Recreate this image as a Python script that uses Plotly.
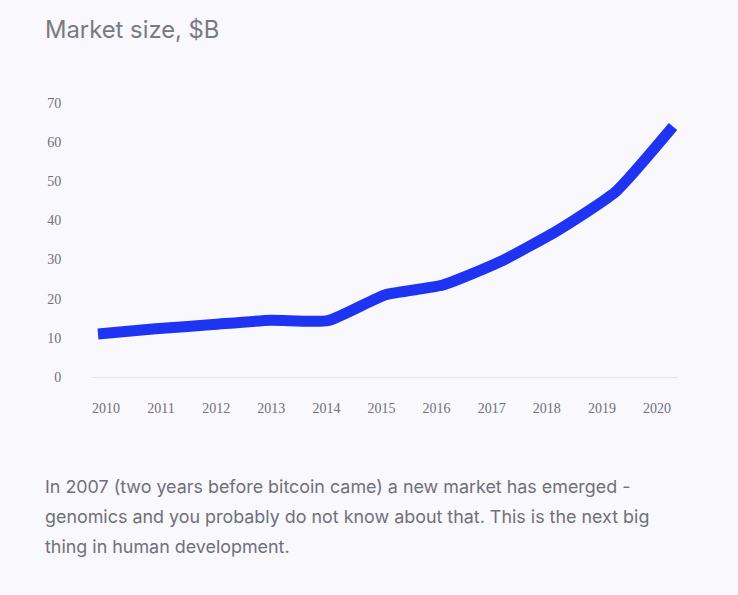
import plotly.graph_objects as go

years = [2010, 2011, 2012, 2013, 2014, 2015, 2016, 2017, 2018, 2019, 2020]
market_size = [11.0, 12.3, 13.4, 14.5, 14.4, 21.0, 23.5, 29.5, 37.5, 47.3, 64.0]
y_ticks = [0, 10, 20, 30, 40, 50, 60, 70]
title_text = "Market size, &#36;B"
body_lines = [
    "In 2007 (two years before bitcoin came) a new market has emerged -",
    "genomics and you probably do not know about that. This is the next big",
    "thing in human development.",
]

BG = "#f8f8fd"
GRAY = "#707079"
BLUE = "#1f33f2"

W, H = 738, 595
ML, MR, MT, MB = 92, 60, 103, 218

fig = go.Figure()
fig.add_trace(go.Scatter(
    x=years, y=market_size, mode="lines",
    line=dict(color=BLUE, width=11, shape="spline", smoothing=0.5),
    hoverinfo="x+y", showlegend=False,
))
# invisible trace carrying the year labels axis
fig.add_trace(go.Scatter(
    x=years, y=[None] * len(years), xaxis="x2", mode="markers",
    marker=dict(opacity=0), showlegend=False, hoverinfo="skip",
))


def px_x(p):
    return (p - ML) / (W - ML - MR)


def px_y(p):
    return (H - MB - p) / (H - MT - MB)


anns = [dict(text=title_text, x=px_x(43), y=px_y(30), xref="paper", yref="paper",
             xanchor="left", yanchor="middle", showarrow=False,
             font=dict(family="Inter", size=23.8, color="#7a7a82"))]
for i, line in enumerate(body_lines):
    anns.append(dict(text=line, x=px_x(43), y=px_y(486 + 30 * i), xref="paper", yref="paper",
                     xanchor="left", yanchor="middle", showarrow=False,
                     font=dict(family="Inter", size=17.9, color=GRAY)))

fig.update_layout(
    width=W, height=H,
    paper_bgcolor=BG, plot_bgcolor=BG,
    margin=dict(l=ML, r=MR, t=MT, b=MB),
    xaxis=dict(range=[2009.896, 2020.087], showticklabels=False, showgrid=False,
               zeroline=False, showline=True, linecolor="#e4e4ea", linewidth=1,
               ticks="", fixedrange=True),
    xaxis2=dict(range=[2009.746, 2020.381], overlaying="x", side="bottom",
                tickmode="array", tickvals=years, ticktext=[str(y) for y in years],
                showgrid=False, zeroline=False, showline=False,
                ticks="outside", ticklen=18, tickcolor="rgba(0,0,0,0)",
                tickfont=dict(family="Liberation Serif", size=14, color=GRAY)),
    yaxis=dict(range=[0, 70], tickmode="array", tickvals=y_ticks,
               showgrid=False, zeroline=False, showline=False,
               ticks="outside", ticklen=27, tickcolor="rgba(0,0,0,0)",
               tickfont=dict(family="Liberation Serif", size=14, color=GRAY)),
    annotations=anns,
)

fig.write_html(
    "out.html",
    config={"displayModeBar": False},
    post_script="document.body.style.margin='0';document.body.style.background='%s';" % BG,
)
